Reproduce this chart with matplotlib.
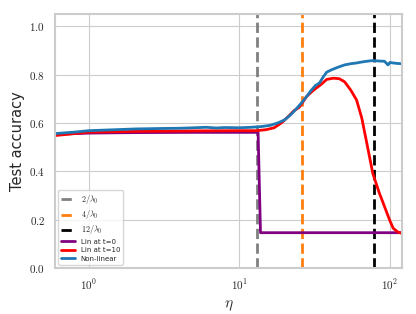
#! /usr/bin/env python3

import matplotlib
matplotlib.use('Agg')
import matplotlib.pyplot as plt
import matplotlib.ticker as ticker
import seaborn as sns
import numpy as np

# vertical markers
lam0 = 0.153
marks = [2 / lam0, 4 / lam0, 12 / lam0]
mark_labels = [r'$2/\lambda_0$', r'$4/\lambda_0$', r'$12/\lambda_0$']
mark_colors = ['gray', '#ff7f0e', 'black']

# Lin at t=0
eta_lin0 = [0.6, 1, 2, 5, 10, 13.3, 13.8, 20, 40, 80, 120]
acc_lin0 = [0.553, 0.558, 0.560, 0.561, 0.561, 0.561, 0.146, 0.146, 0.146, 0.146, 0.146]

# Lin at t=10
eta_lin10 = [0.6, 1, 2, 5, 10, 13, 15, 17, 19, 21, 23, 25, 28, 31, 35, 38, 42,
             46, 50, 55, 60, 65, 70, 77, 85, 90, 100, 105, 112, 120]
acc_lin10 = [0.548, 0.562, 0.565, 0.567, 0.568, 0.568, 0.572, 0.580, 0.600,
             0.625, 0.650, 0.665, 0.710, 0.735, 0.760, 0.780, 0.785, 0.783,
             0.770, 0.735, 0.695, 0.620, 0.520, 0.390, 0.310, 0.270, 0.195,
             0.165, 0.150, 0.143]

# Non-linear
eta_nl = [0.6, 0.8, 1, 1.5, 2, 3, 4, 5, 6, 7, 8, 10, 12, 14, 16, 18, 20, 22,
          24, 26, 28, 30, 32, 34, 36, 38, 41, 45, 50, 55, 60, 65, 70, 77, 85,
          92, 97, 100, 105, 112, 120]
acc_nl = [0.556, 0.562, 0.568, 0.572, 0.575, 0.577, 0.578, 0.580, 0.582,
          0.579, 0.581, 0.580, 0.582, 0.585, 0.590, 0.600, 0.613, 0.635,
          0.660, 0.685, 0.710, 0.735, 0.755, 0.765, 0.790, 0.810, 0.820,
          0.830, 0.840, 0.845, 0.848, 0.852, 0.855, 0.858, 0.856, 0.855,
          0.840, 0.850, 0.848, 0.846, 0.845]

sns.set_style('whitegrid')
plt.rcParams['font.family'] = ['DejaVu Sans']
plt.rcParams['mathtext.fontset'] = 'cm'

fig = plt.figure(figsize=(4.16, 3.14), dpi=100)
ax = fig.add_axes([0.132, 0.1465, 0.834, 0.8085])

for m, lab, c in zip(marks, mark_labels, mark_colors):
    ax.axvline(m, color=c, linestyle='--', linewidth=2, label=lab)

ax.plot(eta_lin0, acc_lin0, color='purple', linewidth=2, label='Lin at t=0')
ax.plot(eta_lin10, acc_lin10, color='red', linewidth=2, label='Lin at t=10')
ax.plot(eta_nl, acc_nl, color='#1f77b4', linewidth=2, label='Non-linear')

ax.set_xscale('log')
ax.set_xlim(0.594, 120)
ax.set_ylim(0, 1.05)

ax.xaxis.set_major_locator(ticker.LogLocator(base=10))
ax.xaxis.set_major_formatter(ticker.FuncFormatter(
    lambda v, p: r'$10^{%d}$' % round(np.log10(v))))
ax.xaxis.set_minor_formatter(ticker.NullFormatter())
ax.yaxis.set_major_locator(ticker.MultipleLocator(0.2))
ax.yaxis.set_major_formatter(ticker.FuncFormatter(lambda v, p: r'$%.1f$' % v))
ax.tick_params(labelsize=8)

ax.set_xlabel(r'$\eta$', fontsize=11)
ax.set_ylabel('Test accuracy', fontsize=10.5, labelpad=3)

for s in ax.spines.values():
    s.set_color('#cccccc')
    s.set_linewidth(1.5)

leg = ax.legend(loc='lower left', fontsize=5, handlelength=2.0,
                labelspacing=0.35)
for t in leg.get_texts()[:3]:
    t.set_fontsize(5.8)

fig.savefig('out.png')
